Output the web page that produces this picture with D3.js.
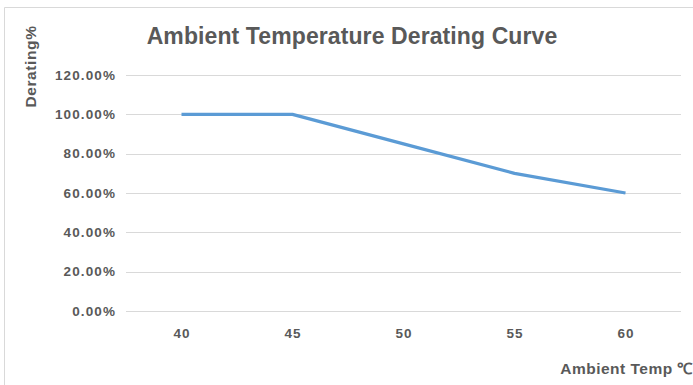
<!DOCTYPE html>
<html>
<head>
<meta charset="utf-8">
<script src="https://cdn.jsdelivr.net/npm/d3@7"></script>
<style>
  body { margin: 0; background: #fff; }
  text { font-family: "Liberation Sans", Arial, sans-serif; font-weight: bold; fill: #595959; }
</style>
</head>
<body>
<svg id="chart" width="693" height="385"></svg>
<script>
'use strict';

let temps = ['40', '45', '50', '55', '60']
let derating = [1.00, 1.00, 0.85, 0.70, 0.60]
let yTicks = [0, 0.2, 0.4, 0.6, 0.8, 1.0, 1.2]

let chartTitle = 'Ambient Temperature Derating Curve'
let xTitle = 'Ambient Temp ℃'
let yTitle = 'Derating%'

let svg = d3.select('#chart')

// chart area border (only left and top show inside the crop)
svg.append('path')
    .attr('d', 'M4.5,385 L4.5,7.5 L693,7.5')
    .attr('fill', 'none')
    .attr('stroke', '#d9d9d9')
    .attr('stroke-width', 1)

let margin = {left: 126, right: 12, top: 75, bottom: 74}
let width = 693 - margin.left - margin.right
let height = 385 - margin.top - margin.bottom

let x = d3.scalePoint().domain(temps).range([0, width]).padding(0.5)
let y = d3.scaleLinear().domain([0, 1.2]).range([height, 0])

let g = svg.append('g').attr('transform', `translate(${margin.left},${margin.top})`)

// gridlines
g.append('g')
    .selectAll('line')
    .data(yTicks)
    .enter().append('line')
    .attr('x1', 0)
    .attr('x2', width)
    .attr('y1', d => Math.round(y(d)) + 0.5)
    .attr('y2', d => Math.round(y(d)) + 0.5)
    .attr('stroke', '#d9d9d9')
    .attr('stroke-width', 1)

// y tick labels
g.append('g')
    .selectAll('text')
    .data(yTicks)
    .enter().append('text')
    .attr('x', -10)
    .attr('y', d => y(d))
    .attr('dy', '0.35em')
    .attr('text-anchor', 'end')
    .attr('font-size', 13.5)
    .attr('letter-spacing', 1.1)
    .text(d3.format('.2%'))

// x tick labels
g.append('g')
    .selectAll('text')
    .data(temps)
    .enter().append('text')
    .attr('x', d => x(d) + 0.6)
    .attr('y', height + 27)
    .attr('text-anchor', 'middle')
    .attr('font-size', 13.5)
    .attr('letter-spacing', 1.1)
    .text(d => d)

let line = d3.line()
    .x((d, i) => x(temps[i]))
    .y(d => y(d))

g.append('path')
    .datum(derating)
    .attr('d', line)
    .attr('fill', 'none')
    .attr('stroke', '#5b9bd5')
    .attr('stroke-width', 3.2)
    .attr('stroke-linejoin', 'round')

svg.append('text')
    .attr('x', 352)
    .attr('y', 44)
    .attr('text-anchor', 'middle')
    .attr('font-size', 23)
    .attr('letter-spacing', 0.1)
    .text(chartTitle)

svg.append('text')
    .attr('x', 693)
    .attr('y', 374)
    .attr('text-anchor', 'end')
    .attr('font-size', 15.5)
    .attr('letter-spacing', 0.5)
    .text(xTitle)

svg.append('text')
    .attr('transform', 'translate(36,66.5) rotate(-90)')
    .attr('text-anchor', 'middle')
    .attr('font-size', 15.5)
    .attr('letter-spacing', 0.6)
    .text(yTitle)
</script>
</body>
</html>
